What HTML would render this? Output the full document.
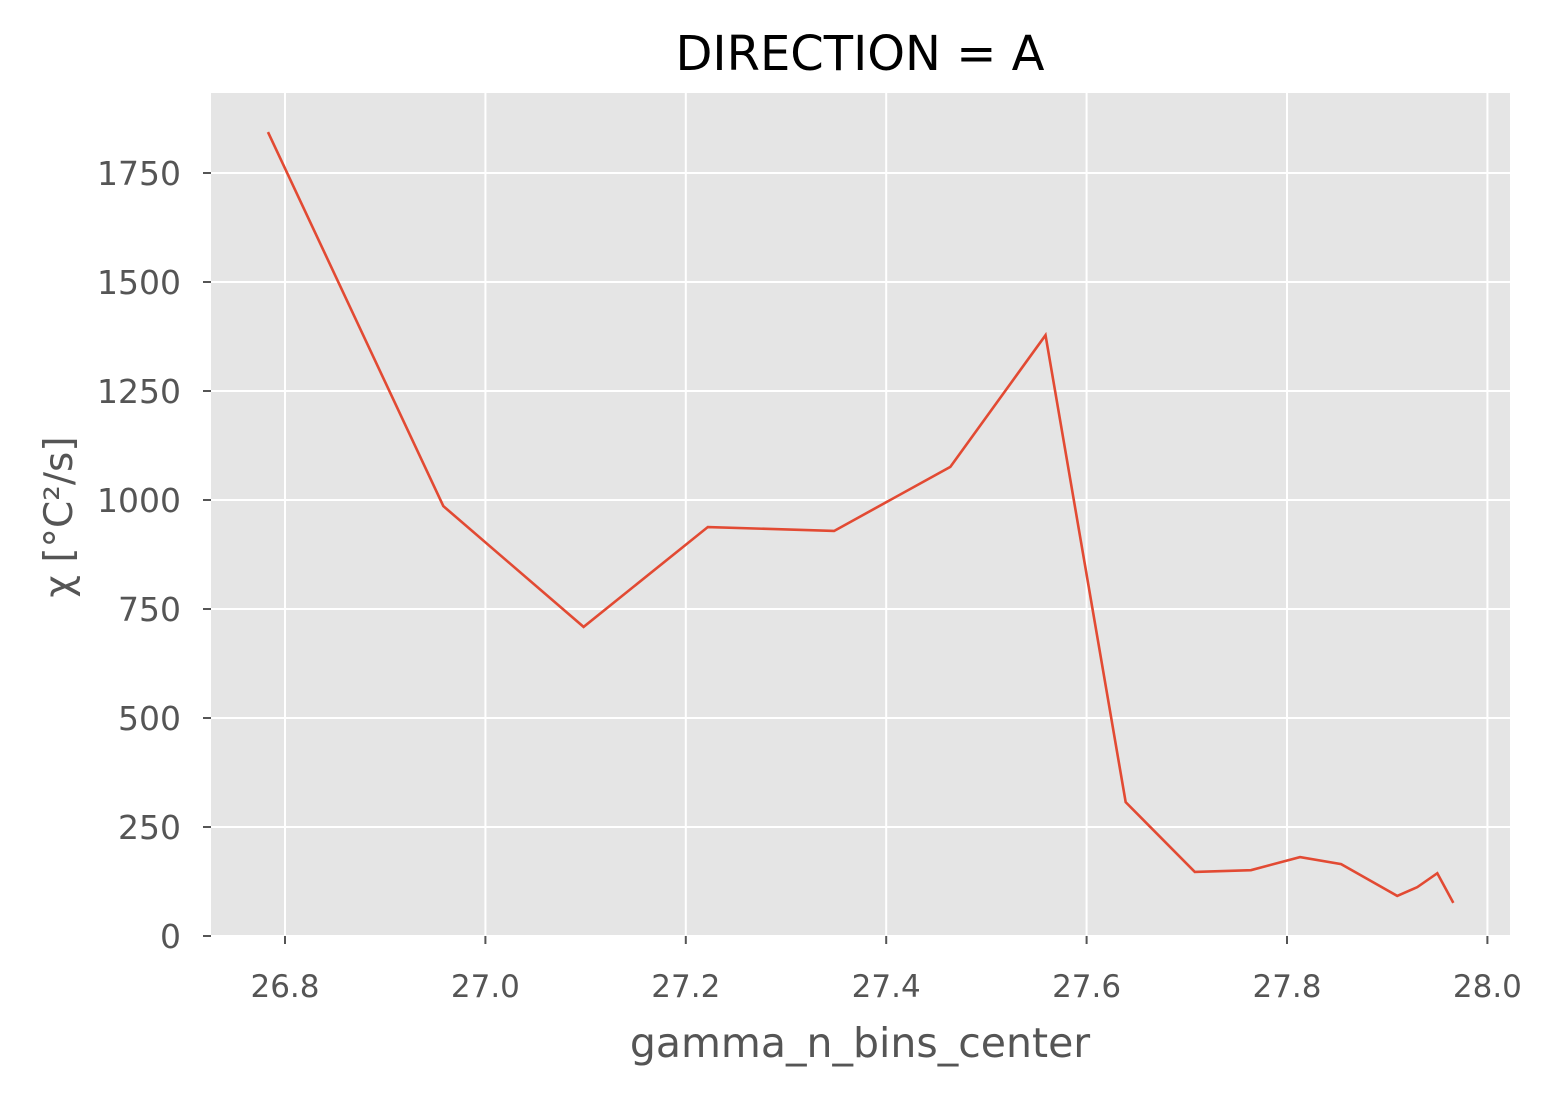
<!DOCTYPE html>
<html><head><meta charset="utf-8"><style>
body{margin:0;background:#fff;}
svg{display:block;font-family:"DejaVu Sans","Liberation Sans",sans-serif;}
</style></head><body>
<svg id="chart" width="1552" height="1094">
<rect x="211" y="93" width="1299" height="843" fill="#e5e5e5"/>
<g id="grid"></g><g id="axes"></g>
<polyline id="line" fill="none" stroke="#e24a33" stroke-width="2.6"/>
<text x="860" y="70" font-size="48" text-anchor="middle" fill="#000">DIRECTION = A</text>
<text x="860" y="1057" font-size="41" text-anchor="middle" fill="#555">gamma_n_bins_center</text>
<text transform="translate(72,517) rotate(-90)" font-size="39" text-anchor="middle" fill="#555">χ [°C²/s]</text>
</svg>
<script>
const xVals=[26.783,26.958,27.098,27.222,27.348,27.464,27.559,27.639,27.708,27.764,27.813,27.854,27.910,27.930,27.950,27.966];
const yVals=[1844,986,709,938,929,1076,1378,307,147,151,181,165,92,112,144,76];
const xTicks=[26.8,27.0,27.2,27.4,27.6,27.8,28.0];
const xTickLabels=["26.8","27.0","27.2","27.4","27.6","27.8","28.0"];
const yTicks=[0,250,500,750,1000,1250,1500,1750];
const yTickLabels=["0","250","500","750","1000","1250","1500","1750"];
const X=v=>285+(v-26.8)*1002;
const Y=v=>936-v*0.436;
const ns="http://www.w3.org/2000/svg";
const grid=document.getElementById('grid'),axes=document.getElementById('axes');
function mk(t,a,p){const e=document.createElementNS(ns,t);for(const k in a)e.setAttribute(k,a[k]);p.appendChild(e);return e;}
xTicks.forEach((t,i)=>{const x=X(t);
const g=mk('line',{x1:x,x2:x,y1:93,y2:936,stroke:'#fff','stroke-width':2},grid);


const tk=mk('line',{x1:x,x2:x,y1:936,y2:944,stroke:'#555','stroke-width':2},axes);


const l=mk('text',{x:x,y:997,'font-size':31,'text-anchor':'middle',fill:'#555'},axes);l.textContent=xTickLabels[i];

});
yTicks.forEach((t,i)=>{const y=Y(t);
const g=mk('line',{x1:211,x2:1510,y1:y,y2:y,stroke:'#fff','stroke-width':2},grid);


const tk=mk('line',{x1:203,x2:211,y1:y,y2:y,stroke:'#555','stroke-width':2},axes);


const l=mk('text',{x:181,y:y+12,'font-size':33,'text-anchor':'end',fill:'#555'},axes);l.textContent=yTickLabels[i];

});
document.getElementById('line').setAttribute('points',xVals.map((v,i)=>X(v)+','+Y(yVals[i])).join(' '));
</script>
</body></html>
